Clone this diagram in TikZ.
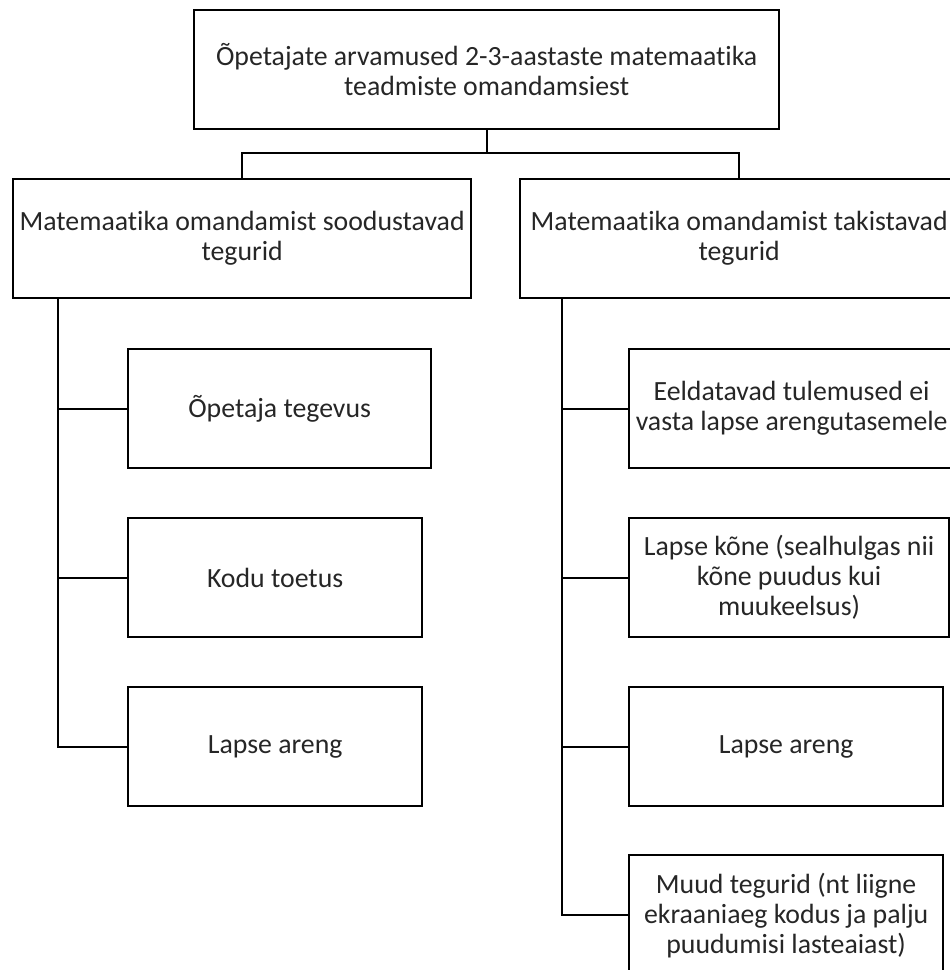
\documentclass[tikz,border=0pt]{standalone}
\usepackage{fontspec}
\setmainfont{Carlito}[Ligatures=NoCommon]
\usepackage{tikz}
\usetikzlibrary{positioning}

\begin{document}
\begin{tikzpicture}[
  x=1pt, y=-1pt,
  font=\fontsize{27.8}{30}\selectfont,
  box/.style={draw, line width=2.3pt, align=center, inner sep=0pt, minimum height=119pt, anchor=north west, text=black!85},
  link/.style={line width=2.3pt}
]
\useasboundingbox (0,0) rectangle (950,970);
\clip (0,0) rectangle (950,970);
% top level
\node[box, minimum width=585pt] (top) at (193,9) {Õpetajate arvamused 2-3-aastaste matemaatika\\teadmiste omandamsiest};
\node[box, minimum width=458pt] (soo) at (12,178) {Matemaatika omandamist soodustavad\\tegurid};
\node[box, minimum width=438pt] (tak) at (519,178) {Matemaatika omandamist takistavad\\tegurid};
% soodustavad
\node[box, minimum width=303pt] (ope) at (127,348) {Õpetaja tegevus};
\node[box, minimum width=294pt] (kodu) at (127,517) {Kodu toetus};
\node[box, minimum width=294pt] (lareng) at (127,686) {Lapse areng};
% takistavad
\node[box, minimum width=325pt] (eeld) at (628,348) {Eeldatavad tulemused ei\\vasta lapse arengutasemele};
\node[box, minimum width=320pt] (kone) at (628,517) {Lapse kõne (sealhulgas nii\\kõne puudus kui\\muukeelsus)};
\node[box, minimum width=314pt] (rareng) at (628,686) {Lapse areng};
\node[box, minimum width=314pt, minimum height=120pt] (muud) at (628,854) {Muud tegurid (nt liigne\\ekraaniaeg kodus ja palju\\puudumisi lasteaiast)};
\coordinate (split) at (top.south |- 0,153);
\coordinate (lspine) at (58,298);
\coordinate (rspine) at (562,298);
\draw[link] (top.south) -- (split);
\draw[link] (soo.north) |- (split) -| (tak.north);
\draw[link] (lspine) |- (lareng.west);
\draw[link] (ope.west) -- (ope.west -| lspine);
\draw[link] (kodu.west) -- (kodu.west -| lspine);
\draw[link] (rspine) |- (muud.west);
\draw[link] (eeld.west) -- (eeld.west -| rspine);
\draw[link] (kone.west) -- (kone.west -| rspine);
\draw[link] (rareng.west) -- (rareng.west -| rspine);
\end{tikzpicture}
\end{document}
